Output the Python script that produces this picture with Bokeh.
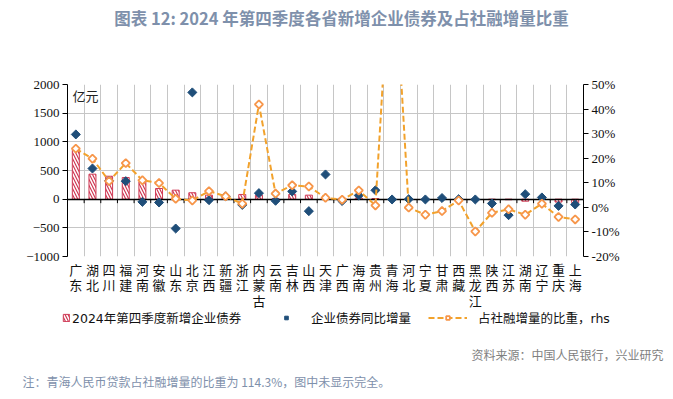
import math
import numpy as np
from bokeh.plotting import figure
from bokeh.layouts import column
from bokeh.models import (Range1d, LinearAxis, FixedTicker, CustomJSTickFormatter, Label,
                          Legend, LegendItem, ColumnDataSource, PrintfTickFormatter)
from bokeh.embed import file_html
from bokeh.resources import INLINE

# ---------------- data ----------------
provinces = ["广东", "湖北", "四川", "福建", "河南", "安徽", "山东", "北京", "江西", "新疆",
             "浙江", "内蒙古", "云南", "吉林", "山西", "天津", "广西", "海南", "贵州", "青海",
             "河北", "宁夏", "甘肃", "西藏", "黑龙江", "陕西", "江苏", "湖南", "辽宁", "重庆", "上海"]
# 2024年第四季度新增企业债券 (亿元)
new_bonds = [855, 436, 400, 378, 300, 186, 157, 112, 70, 45,
             82, 70, 10, 82, 70, 20, 15, 20, 10, 5,
             10, 5, 5, 5, 5, -10, -10, -35, 5, -50, -60]
# 企业债券同比增量 (亿元)
yoy_change = [1129, 535, 320, 314, -47, -58, -512, 1862, -17, 50,
              -100, 105, -28, 135, -209, 431, -32, 65, 155, -5,
              0, -5, 20, 0, -5, -75, -279, 87, 30, -117, -93]
# 占社融增量的比重 (%), rhs
tsf_share = [23.9, 19.8, 10.7, 18.0, 11.0, 9.9, 3.5, 2.8, 6.6, 4.5,
             1.5, 41.9, 5.6, 9.0, 8.5, 3.9, 3.1, 6.9, 0.8, 114.3,
             -0.1, -3.0, -1.5, 2.8, -9.8, -2.2, -0.8, -3.0, 1.5, -3.9, -4.9]

left_ticks = [-1000, -500, 0, 500, 1000, 1500, 2000]
right_ticks = [-20, -10, 0, 10, 20, 30, 40, 50]

title_text = "图表 12: 2024 年第四季度各省新增企业债券及占社融增量比重"
unit_text = "亿元"
source_text = "资料来源：中国人民银行，兴业研究"
note_text = "注：青海人民币贷款占社融增量的比重为 114.3%，图中未显示完全。"
legend_labels = ["2024年第四季度新增企业债券", "企业债券同比增量", "占社融增量的比重，rhs"]

# ---------------- styles ----------------
RED = "#cf3a55"
BLUE = "#1f4e79"
ORANGE_LINE = "#f2a22c"
ORANGE_MK = "#f7964a"
GRID = "#c6c6c6"
CJK = "Noto Sans CJK SC"
# latin primary font keeps the measured line box compact; Han glyphs come from Noto CJK
CJK_COMPACT = "DejaVu Sans, Noto Sans CJK SC"
SERIF = "Liberation Serif"

W = 665
TOP_H = 72
FW, FH = 516, 172
BOT_H = 86

bar_style = dict(fill_color="white", line_color=RED, line_width=1, hatch_pattern="\\",
                 hatch_color=RED, hatch_scale=6, hatch_weight=1.2)
dia_style = dict(marker="square", angle=math.pi / 4, size=6.4, fill_color=BLUE,
                 line_color=BLUE, line_width=1)
line_style = dict(line_color=ORANGE_LINE, line_width=2, line_dash="6 3")
mk_style = dict(marker="square", angle=math.pi / 4, size=5.8, fill_color="white",
                line_color=ORANGE_MK, line_width=1.8)


def blank_fig(h):
    f = figure(width=W, height=h, output_backend="svg", toolbar_location=None,
               x_range=Range1d(0, W), y_range=Range1d(h, 0), frame_align=False,
               min_border=0, border_fill_color="white", background_fill_color="white")
    f.axis.visible = False
    f.grid.visible = False
    f.outline_line_color = None
    return f


# ---------------- title strip ----------------
top = blank_fig(TOP_H)
top.add_layout(Label(x=341, y=17, text=title_text, text_font=CJK, text_font_size="16.5px",
                     text_font_style="bold", text_color="#7e90ab", text_align="center",
                     text_baseline="middle"))

# ---------------- main chart ----------------
n = len(provinces)
xs = [i + 0.5 for i in range(n)]
cat_labels = ["\n".join(name) for name in provinces]
src = ColumnDataSource(dict(x=xs, bonds=new_bonds, diff=yoy_change, share=tsf_share))

p = figure(frame_width=FW, frame_height=FH, output_backend="svg", toolbar_location=None,
           x_range=Range1d(0, n), y_range=Range1d(left_ticks[0], left_ticks[-1]),
           min_border_left=67, min_border_right=W - 67 - FW, min_border_top=12,
           min_border_bottom=40, frame_align=False,
           background_fill_color="white", border_fill_color="white")
p.outline_line_color = None
p.extra_y_ranges = {"rhs": Range1d(right_ticks[0], right_ticks[-1])}

p.xgrid.ticker = FixedTicker(ticks=list(range(0, n + 1)))
p.ygrid.ticker = FixedTicker(ticks=left_ticks)
p.grid.grid_line_color = GRID
p.grid.grid_line_width = 1

xa = p.xaxis[0]
xa.ticker = FixedTicker(ticks=xs)
xa.formatter = CustomJSTickFormatter(args=dict(labels=cat_labels),
                                     code="return labels[Math.floor(tick)]")
xa.axis_line_color = None
xa.major_tick_line_color = None
xa.minor_tick_line_color = None
xa.major_tick_out = 0
xa.major_tick_in = 0
xa.major_label_standoff = 6
xa.major_label_text_font = CJK_COMPACT
xa.major_label_text_font_size = "13px"
xa.major_label_text_color = "#111111"
xa.major_label_text_line_height = 1.05

ya = p.yaxis[0]
ya.ticker = FixedTicker(ticks=left_ticks)
ya.axis_line_color = "black"
ya.major_tick_line_color = "black"
ya.major_tick_out = 5
ya.major_tick_in = 0
ya.minor_tick_line_color = None
ya.major_label_standoff = 3
ya.major_label_text_font = SERIF
ya.major_label_text_font_size = "13px"
ya.major_label_text_color = "#111111"

ra = LinearAxis(y_range_name="rhs", ticker=FixedTicker(ticks=right_ticks),
                formatter=PrintfTickFormatter(format="%d%%"))
ra.axis_line_color = "black"
ra.major_tick_line_color = "black"
ra.major_tick_out = 5
ra.major_tick_in = 0
ra.minor_tick_line_color = None
ra.major_label_standoff = 3
ra.major_label_text_font = SERIF
ra.major_label_text_font_size = "13px"
ra.major_label_text_color = "#111111"
p.add_layout(ra, "right")

p.vbar(x="x", top="bonds", width=0.42, source=src, **bar_style)

p.hspan(y=[0], line_color="black", line_width=1.5)
px_per_unit = FH / (left_ticks[-1] - left_ticks[0])
tick_len = 4 / px_per_unit
bounds = list(range(1, n))
p.segment(x0=bounds, y0=[0] * len(bounds), x1=bounds, y1=[-tick_len] * len(bounds),
          line_color="black", line_width=1)

p.scatter(x="x", y="diff", source=src, **dia_style)
p.line(x="x", y="share", source=src, y_range_name="rhs", **line_style)
p.scatter(x="x", y="share", source=src, y_range_name="rhs", **mk_style)

p.add_layout(Label(x=5, y=FH - 1, x_units="screen", y_units="screen", text=unit_text,
                   text_font=CJK, text_font_size="13px", text_color="#222222",
                   text_baseline="top", text_align="left"))

# ---------------- legend + footers strip ----------------
bot = blank_fig(BOT_H)
# legend proxies: a single NaN row so that the legend draws their glyphs
proxy = ColumnDataSource(dict(x=np.array([np.nan]), y=np.array([np.nan])))
r_bar = bot.vbar(x="x", top="y", width=1, source=proxy, **bar_style)
r_dia = bot.scatter(x="x", y="y", source=proxy, **dia_style)
r_ln = bot.line(x="x", y="y", source=proxy, **line_style)
r_mk = bot.scatter(x="x", y="y", source=proxy, **mk_style)

LEG_BOTTOM = 15     # legend bottom edge, px from strip top


def make_legend(label, renderers, x_left, gw, standoff):
    lg = Legend(items=[LegendItem(label=label, renderers=renderers)],
                location=(x_left, BOT_H - LEG_BOTTOM),
                orientation="horizontal", glyph_width=gw, glyph_height=9,
                label_standoff=standoff, padding=0, margin=0, spacing=0,
                border_line_color=None, background_fill_alpha=0,
                label_text_font=CJK_COMPACT, label_text_font_size="12.5px",
                label_text_color="#111111", label_height=12)
    bot.add_layout(lg)


make_legend(legend_labels[0], [r_bar], 62, 8, 2)
make_legend(legend_labels[1], [r_dia], 281, 10, 20)
make_legend(legend_labels[2], [r_ln, r_mk], 428, 39, 11)

bot.add_layout(Label(x=663, y=42, text=source_text, text_font=CJK, text_font_size="12px",
                     text_color="#7f7f7f", text_align="right", text_baseline="middle"))
bot.add_layout(Label(x=22, y=69, text=note_text, text_font=CJK, text_font_size="12px",
                     text_color="#7e90ab", text_align="left", text_baseline="middle"))

layout = column(top, p, bot, spacing=0)
open("out.html", "w").write(file_html(layout, INLINE))
